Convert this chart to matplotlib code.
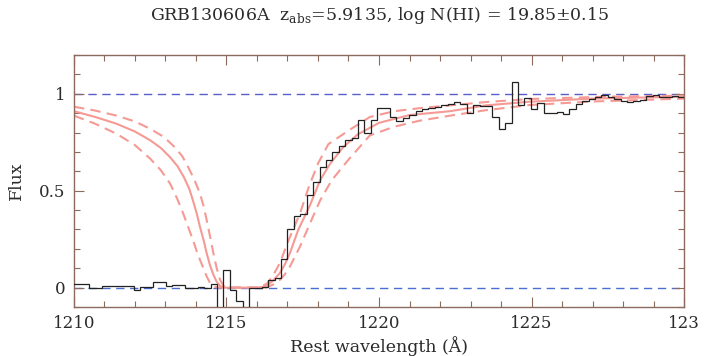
import numpy as np
import matplotlib
matplotlib.use("Agg")
import matplotlib.pyplot as plt
from matplotlib.ticker import MultipleLocator

plt.rcParams["font.family"] = ["DejaVu Serif"]
plt.rcParams["mathtext.fontset"] = "custom"
plt.rcParams["mathtext.rm"] = "DejaVu Serif"

# Observed spectrum: binned flux, uniform bins of 0.21 A starting at 1209.65 A
bin_start = 1209.65
bin_width = 0.21
flux = [
    0.02, 0.02, 0.02, 0.02, 0.0, 0.0, 0.01, 0.01, 0.01, 0.01,
    0.01, -0.01, 0.005, 0.005, 0.03, 0.03, 0.01, 0.015, 0.015, 0.0,
    0.0, 0.005, 0.0, 0.02, -0.3, 0.09, -0.014, -0.067, -0.3, 0.0,
    0.0, 0.005, 0.04, 0.05, 0.15, 0.30, 0.37, 0.38, 0.48, 0.545,
    0.62, 0.66, 0.70, 0.73, 0.76, 0.77, 0.865, 0.80, 0.865, 0.925,
    0.925, 0.88, 0.86, 0.875, 0.89, 0.91, 0.92, 0.925, 0.93, 0.94,
    0.945, 0.955, 0.945, 0.90, 0.94, 0.935, 0.935, 0.88, 0.82, 0.85,
    1.06, 0.94, 0.98, 0.92, 0.95, 0.90, 0.90, 0.905, 0.895, 0.92,
    0.945, 0.96, 0.975, 0.985, 0.995, 0.985, 0.975, 0.96, 0.955, 0.96,
    0.97, 0.99, 0.995, 0.985, 0.985, 0.99, 0.985,
]

# DLA model (best fit) and +/- 1 sigma profiles
model_wave = [1210.0, 1210.7, 1211.4, 1212.0, 1212.5, 1212.85, 1213.15, 1213.4,
              1213.6, 1213.78, 1213.9, 1214.02, 1214.13, 1214.25, 1214.35, 1214.46,
              1214.57, 1214.68, 1214.8, 1214.95, 1216.0, 1216.15, 1216.32, 1216.52,
              1216.75, 1216.92, 1217.08, 1217.35, 1217.74, 1218.07, 1218.4, 1218.83,
              1219.3, 1220.0, 1221.0, 1222.33, 1223.5, 1224.95, 1227.0, 1230.0]
model_flux = [0.91, 0.88, 0.845, 0.805, 0.76, 0.72, 0.673, 0.625,
              0.571, 0.51, 0.45, 0.385, 0.314, 0.245, 0.178, 0.115,
              0.067, 0.03, 0.007, 0.0, 0.0, 0.003, 0.01, 0.035,
              0.075, 0.122, 0.178, 0.297, 0.426, 0.554, 0.64, 0.725,
              0.79, 0.85, 0.89, 0.91, 0.94, 0.959, 0.975, 0.985]

upper_wave = [1210.0, 1210.7, 1211.4, 1212.0, 1212.5, 1212.95, 1213.3, 1213.55,
              1213.75, 1213.95, 1214.13, 1214.25, 1214.35, 1214.46, 1214.57, 1214.68,
              1214.79, 1214.9, 1215.0, 1215.95, 1216.12, 1216.32, 1216.52, 1216.75,
              1217.05, 1217.41, 1217.7, 1218.0, 1218.34, 1219.0, 1219.7, 1220.5,
              1221.3, 1222.33, 1223.5, 1224.95, 1227.5, 1230.0]
upper_flux = [0.933, 0.913, 0.887, 0.857, 0.819, 0.777, 0.725, 0.678,
              0.62, 0.555, 0.486, 0.42, 0.349, 0.265, 0.178, 0.1,
              0.04, 0.01, 0.0, 0.0, 0.005, 0.02, 0.06, 0.127,
              0.25, 0.383, 0.52, 0.64, 0.74, 0.81, 0.88, 0.91,
              0.925, 0.94, 0.957, 0.973, 0.985, 0.99]

lower_wave = [1210.0, 1210.7, 1211.4, 1212.0, 1212.5, 1212.85, 1213.15, 1213.38,
              1213.58, 1213.75, 1213.9, 1214.02, 1214.13, 1214.25, 1214.35, 1214.46,
              1214.57, 1214.7, 1216.3, 1216.52, 1216.75, 1216.92, 1217.08, 1217.41,
              1217.74, 1218.07, 1218.45, 1219.0, 1219.7, 1220.5, 1221.3, 1222.33,
              1223.5, 1224.95, 1227.0, 1230.0]
lower_flux = [0.887, 0.845, 0.793, 0.735, 0.665, 0.605, 0.537, 0.46,
              0.383, 0.31, 0.246, 0.19, 0.144, 0.098, 0.058, 0.025,
              0.007, 0.0, 0.0, 0.015, 0.04, 0.07, 0.109, 0.212,
              0.332, 0.45, 0.554, 0.66, 0.785, 0.83, 0.86, 0.887,
              0.915, 0.942, 0.96, 0.975]

edges = bin_start + bin_width * np.arange(len(flux) + 1)

frame_col = "#8c6a5e"
model_col = "#f59a94"
ref_col = "#4a6fd0"
text_col = "#2b2b2b"

fig = plt.figure(figsize=(7.28, 3.56), dpi=100)
ax = fig.add_axes([0.1016, 0.1376, 0.838, 0.708])

ax.axhline(1.0, color="#5a5ec8", lw=1.0, ls=(0, (6, 4)), zorder=1)
ax.axhline(0.0, color=ref_col, lw=1.0, ls=(0, (6, 4)), zorder=1)

ax.plot(model_wave, model_flux, color=model_col, lw=1.5, zorder=2)
ax.plot(upper_wave, upper_flux, color=model_col, lw=1.5, ls=(0, (5, 3)), zorder=2)
ax.plot(lower_wave, lower_flux, color=model_col, lw=1.5, ls=(0, (5, 3)), zorder=2)

ax.stairs(flux, edges, baseline=None, color="#222222", lw=0.9, zorder=3)

ax.set_xlim(1210, 1230)
ax.set_ylim(-0.1, 1.2)

ax.xaxis.set_major_locator(MultipleLocator(5))
ax.xaxis.set_minor_locator(MultipleLocator(1))
ax.yaxis.set_major_locator(MultipleLocator(0.5))
ax.yaxis.set_minor_locator(MultipleLocator(0.1))
ax.set_xticks([1210, 1215, 1220, 1225, 1230])
ax.set_xticklabels(["1210", "1215", "1220", "1225", "123"])
ax.set_yticks([0, 0.5, 1])
ax.set_yticklabels(["0", "0.5", "1"])

ax.tick_params(which="both", direction="in", top=True, right=True,
               color=frame_col, labelsize=12, labelcolor=text_col, pad=6)
ax.tick_params(which="major", length=7, width=0.8)
ax.tick_params(which="minor", length=4, width=0.8)
for s in ax.spines.values():
    s.set_color(frame_col)
    s.set_linewidth(1.0)

ax.set_xlabel("Rest wavelength (Å)", fontsize=12.5, color=text_col, labelpad=3)
ax.set_ylabel("Flux", fontsize=12.5, color=text_col, labelpad=10)
fig.text(0.522, 0.957, r"GRB130606A  z$_{\rm abs}$=5.9135, log N(HI) = 19.85±0.15",
         ha="center", va="center", fontsize=12.5, color=text_col)

fig.savefig("out.png", dpi=100)
